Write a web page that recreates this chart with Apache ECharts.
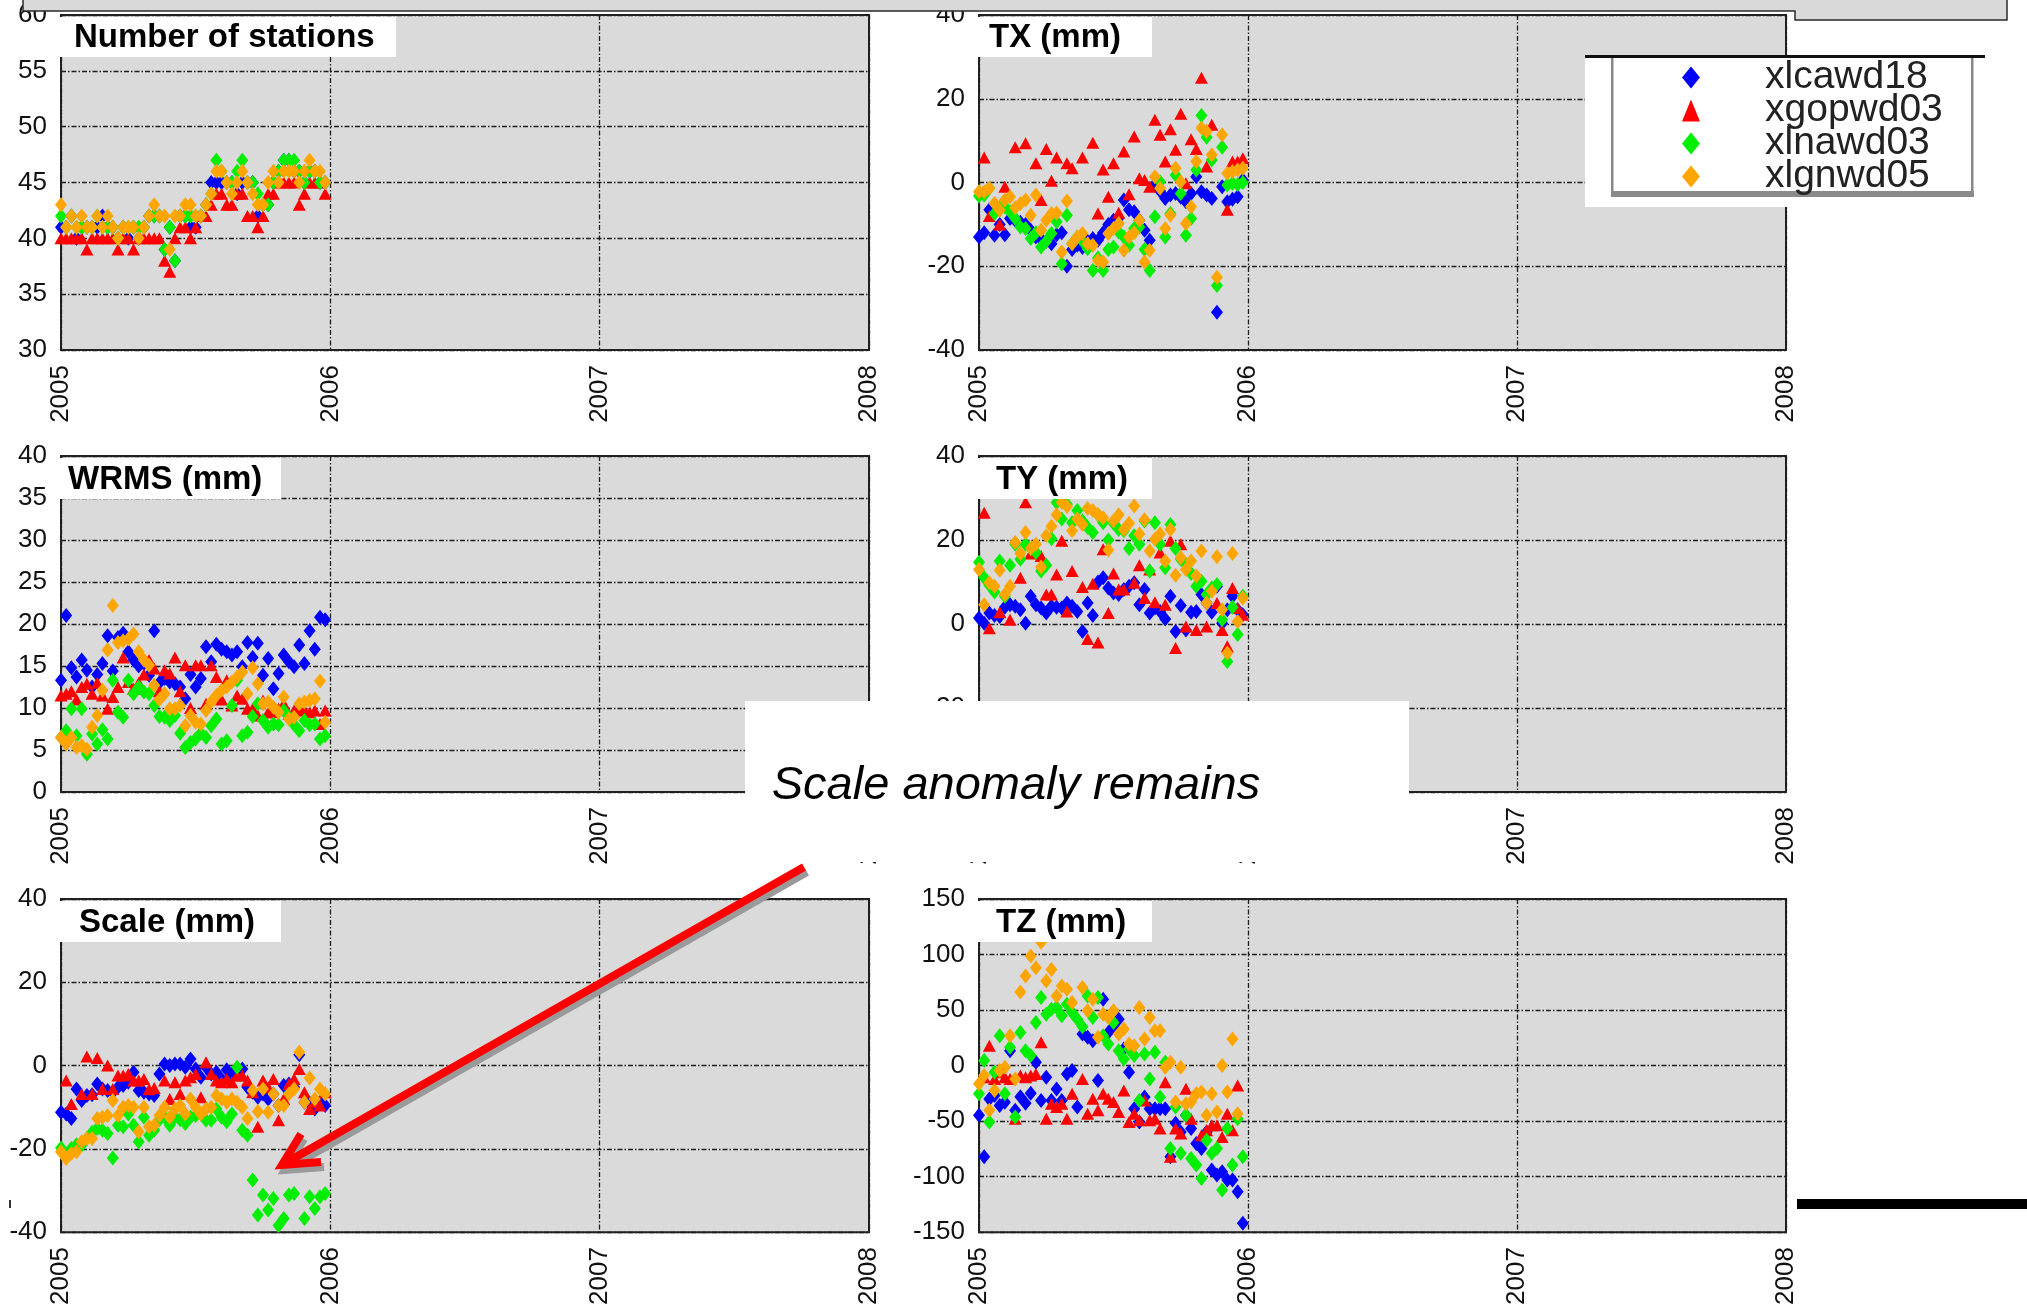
<!DOCTYPE html>
<html>
<head>
<meta charset="utf-8">
<title>Weekly combination statistics 2005</title>
<script src="https://cdn.jsdelivr.net/npm/echarts@6/dist/echarts.min.js"></script>
<style>
  html, body { margin: 0; padding: 0; background: #ffffff; }
  #chart { width: 2027px; height: 1308px; }
</style>
</head>
<body>
<div id="chart"></div>
<script>
// Weekly solutions through 2005; epoch of week i is firstEpoch + i * weekStep
const firstEpoch = 2005;
const weekStep = 1 / 52;
const yearTicks = [2005, 2006, 2007, 2008];

const solutionNames = ['xlcawd18', 'xgopwd03', 'xlnawd03', 'xlgnwd05'];
const solutionColors = ['#0000ff', '#ff0000', '#00ee00', '#ffa500'];
const solutionSymbols = ['diamond', 'triangle', 'diamond', 'diamond'];

const panelTitles = ['Number of stations', 'TX (mm)', 'WRMS (mm)', 'TY (mm)', 'Scale (mm)', 'TZ (mm)'];

// ---- Number of stations ----
const stationsCawd = [41,41,42,40,41,41,41,41,42,41,41,40,41, 40,41,40,41,42,42,42,39,41,38,42,42,41, 41,42,43,45,45,45,45,45,44,45,45,45,42, 43,43,45,46,47,47,46,46,45,46,46,45,45];
const stationsGopwd = [40,40,40,40,40,39,40,40,40,40,40,39,40, 40,39,40,40,40,40,40,38,37,40,41,41,40, 41,42,42,43,44,44,43,43,44,44,42,42,41, 42,44,44,45,45,45,45,43,44,45,45,45,44];
const stationsNawd = [42,41,42,41,41,41,41,42,41,41,41,40,41, 41,41,41,41,42,42,42,39,41,38,42,42,42, 42,42,43,44,47,46,45,45,46,47,45,45,44, 43,43,45,46,47,47,47,46,45,46,46,45,45];
const stationsGnwd = [43,41,42,41,42,41,41,42,41,42,41,40,41, 41,41,40,41,42,43,42,42,39,42,42,43,43, 42,42,43,44,46,46,45,44,45,46,45,44,43, 43,45,46,45,46,46,46,45,46,47,46,46,45];

// ---- TX (mm) ----
const txCawd = [-13,-12,-6.5,-12.6,-10,-12.5,-8.6,-9,-9.5,-10,-11.4,-13,-13.5, -14,-14.6,-12.5,-12,-20,-16,-15,-15.5,-14,-13.4,-13.8,-12,-10, -9,-8.5,-4.2,-6.5,-7,-9,-11.4,-13.8,-0.4,-2,-3.8,-3,-2.6, -3.5,-4.6,-2.6,1.4,-2.2,-3,-3.8,-31,-1,-4.6,-4,-3.4,0.6];
const txGopwd = [null,6,-8,null,-10,-1,null,8.4,null,9.4,null,4.6,-4.2, 8,0.4,6,null,4.6,3.4,null,6,null,9.5,-7.4,3.1,-3.4, 4.6,-7.2,7.4,-2.8,11,1,0.6,-1,15,11.4,5,12.7,7.8, 16.4,-0.2,10.3,8,25,3.8,13.8,null,null,-6.5,5,5,5.8];
const txNawd = [-3.2,-3,-1.4,-7.4,-6,-5.8,-7,-8.6,-10.6,-11,-13.4,-12,-15.4, -14,-12.2,-9.4,-19.4,-7.8,-14.6,-13,-14,-15.8,-21,-18,-21,-16, -15.4,-11.8,-13,-15,-11,-10.6,-16,-21,-8.2,0.2,-13,-7.4,1.8, -2.6,-12.6,-8.6,3,16,10.8,5.4,-24.6,8.4,-0.6,-0.2,-0.5,0];
const txGnwd = [-2.2,-2.2,-1.4,-5,-6.6,-4.2,-3.4,-6,-5,-4.2,-7.8,-3,-11.4, -9,-7.4,-7.3,-16.6,-4.4,-14.6,-13,-12.2,-14.6,-15,-18.6,-19,-12.2, -11,-9.8,-16.2,-13,-12,-9,-19,-16.2,1.4,-1.4,-11,-7.8,3.4, 0.2,-9.8,-5.8,5,13,12.2,6.6,-22.6,11.4,2.2,2.6,3,3.4];

// ---- WRMS (mm) ----
const wrmsCawd = [13.3,21,14.8,13.7,15.7,14.5,12.5,14,15.3,18.6,14.4,18.4,18.9, 16.7,15.7,15,15.3,13.9,19.2,13,13.5,13.1,12.9,12.5,11.1,14, 12.5,13.5,17.3,15.5,17.6,17,16.7,16.3,16.7,14.9,17.8,16,17.7, 13.9,15.9,12.3,14.1,16.3,15.5,14.9,17.5,15.3,19.2,17,20.8,20.5];
const wrmsGopwd = [11.5,11.7,12,11,12.5,12.9,11.7,13,11.5,9.9,11.3,12.5,16, 13.1,12.3,13,14,15.7,14.7,12,14.5,14.1,16,12,15.1,10, 15.1,15.1,10.5,15.1,13.7,11,13.3,10.3,11.5,11.1,9.9,9.9,9.1, 10.9,9.5,9.5,9.9,10.5,9.3,9.7,9.9,9.7,9.5,9.7,8.1,9.7];
const wrmsNawd = [6.5,7.3,9.9,6.7,9.9,4.5,6.9,5.7,7.4,6.3,13.3,9.5,8.9, 13.3,11.7,12.5,11.9,11.7,10.3,9,8.9,8.5,9.1,7,5.3,5.9, 6.3,7,6.5,7.9,8.7,5.7,6.1,10.3,13.3,6.7,7.1,9,10.5, 8.5,7.7,8.1,8,9.7,8.9,8,7.3,8.5,8,8.1,6.3,6.7];
const wrmsGnwd = [6.5,5.7,6.5,5.3,5.5,5.1,7.7,9.1,12.1,16.9,22.2,17.8,18, 18.2,18.8,16.7,15.7,15.1,12.7,11,11.7,9.9,9.9,10.3,7.9,9.1, 8.3,8.1,9.7,10.7,11.5,12.1,12.5,13.1,13.7,14.3,11.7,14.8,12.9, 10.5,10.7,10.1,9.5,11.3,8.7,8.9,10.5,10.7,10.9,11.1,13.2,8.3];

// ---- TY (mm) ----
const tyCawd = [1.4,0.2,2.6,2,1.8,4,4.6,4.2,3.4,0.2,6.6,4.6,3.8, 2.6,4.2,4,3.8,5,4.2,3,-1.8,5,2,10,11,8.6, 7.4,7,8.2,9,9.8,4.6,8.2,2.6,3.8,3,1.2,6.6,-1.8, 4.4,-1.4,2.8,3,7,5,2.8,9,0.2,3.4,6.6,3.4,2.2];
const tyGopwd = [null,26.5,-1,null,2.8,null,1,null,11,29,16.8,17.1,16.2, 7,7,11.8,19.8,3,12.6,null,8.8,-3.6,9.6,-4.4,17.8,2.6, 12,8.2,8.2,null,9.8,14,6.2,13,5.2,17,4.6,19.8,-5.7, 19,-0.6,null,-1.4,null,-0.6,null,5,-1.4,-5.3,8.6,3.8,2.2];
const tyNawd = [14.7,11,9.2,7.6,15,6.6,14,19,15.4,19,18,17,12.6, 14,20.3,28.9,25,28.5,24.1,27,24.5,23,21.8,26,24.1,20, 24,22.5,22.2,18,21,19,24.5,12.6,24.1,19,13.4,23.7,18, 15.4,14.2,12,9,10.2,7,8.6,9.4,1,-8.9,4,-2.5,6.6];
const tyGnwd = [13,4.6,9.8,9,12.8,7,9,19.4,16.8,21.8,18,19,13.6, 21,23.3,26,28.9,28,22.2,25,23.7,27.5,27,26.1,25.3,17.6, 24.5,26,22.5,24,28.1,21.4,24.8,17.4,20.2,21.4,15,22.5,11.6, 15.8,13,15,11.4,17.4,5,7.8,16,3.4,-6.9,16.8,0.6,6.2];

// ---- Scale (mm) ----
const scaleCawd = [-11.2,-11.6,-12.7,-5.6,-8.4,-7.2,-7,-4.4,-5.6,-6,-6.4,-5.2,-4.8, -4,-1.6,-6,-6.4,-6.8,-7.2,-2,0.4,0,0.4,0.4,-0.4,1.6, -0.8,-2.8,-0.4,-2,-1.6,-3.2,-1,-2,-1.5,-0.8,-5.2,-6.4,-7.6, -6.8,-8,-6.8,-9.6,-4.8,-4.4,-5.2,2.6,-8.8,-9,-10.4,-8.8,-9.6];
const scaleGopwd = [null,-3.6,-9.2,null,-6.8,2.2,-6.8,1.8,-5.6,0,-5.6,-2.4,-2.4, -2,-3.6,-3.6,-3.2,-5.7,-5.4,null,-3.6,-8,-4,-6.8,-3.6,-2.8, -2,-7.6,0.8,-2,-3.6,-4,-3.2,-4,-2.4,-2.4,-3.6,-6.4,-14.7, -3.6,-5.2,-3.2,-13.1,-8,-4.4,-3.2,-0.8,-6.4,-10.4,-8.8,-9.6,-6.4];
const scaleNawd = [-19.8,-21.5,-19.9,-19,-19.1,-17.5,-16,-15.1,-15.5,-16.3,-22.2,-14.3,-14.7, -11.6,-14.3,-18.3,-12.4,-16.7,-15.5,-13,-12.4,-14.3,-12.4,-13,-13.9,-12.4, -12,-11.6,-13.1,-13.1,-10.4,-12.4,-13.5,-11.6,-0.4,-15.5,-16.7,-27.5,-35.9, -31.1,-34.7,-31.9,-38.4,-36.7,-31.1,-30.7,null,-36.7,-31.5,-34.3,-31.5,-30.7];
const scaleGnwd = [-20.7,-22.3,-21.1,-20.7,-18.3,-17.5,-17.5,-12.7,-12.4,-12,-8.4,-12,-10, -9.6,-10,-15.9,-10,-14.7,-14.3,-12,-10,-12.4,-10.4,-9.6,-11.6,-8, -10,-11.6,-10.4,-10,-7.2,-8,-8.8,-8,-8.8,-10,-12.7,-6,-11, -5.6,-11.2,-6.8,-9.6,-9.6,-6.8,-5.6,3.2,-8.8,-3,-8,-5.6,-6.8];

// ---- TZ (mm) ----
const tzCawd = [-44.8,-82,-30,-27,-36,-33,13.4,-40.3,-28,-34,-25,3,-31.4, -10.5,-31.4,-21,-31.4,-7.5,-4.5,-37.3,28.4,25.4,22.4,-13.4,59.7,29.9, 35,41.8,14.9,-6,-38.8,-50.8,-28.4,-38.8,-38.8,-38.8,-38.8,-82,-52, -59.7,-44.8,-56.7,-70.2,-74.7,-59.7,-94,-98.6,-95.6,-103,-103,-113.5,-141.9];
const tzGopwd = [null,-10.5,17.9,-12,-6,-10.5,-12,-47.8,-9,-10.5,-9,-7.5,20.9, -47.8,-34.3,-37.3,-34.3,-47.8,-25.4,null,-12,-43.3,-29.9,-40.3,-25.4,-29.9, -32.9,-41.8,-22.4,-50.8,-43.3,-49.3,-31.4,-49.3,-47.8,-56.7,-14.9,-82,-56.7, -61.2,-20.9,-47.8,null,-62.7,-58.2,-53.8,-53.8,-64.2,-43.3,-58.2,-17.9,null];
const tzNawd = [-25.4,4.5,-50.8,-6,26.9,-25.4,16.4,-46.3,29.9,13.4,9,38.8,61.2, 46.3,50.8,52.3,44.8,55.3,47.8,41.8,35,62.7,43.3,61.2,26.9,19.4, 38.8,13.4,6,14.9,9,-31.4,10.5,-12,11.9,-28.4,3,-74.7,-37.3, -79,-44.8,-83.6,-89.6,-101.6,-67.2,-79,-74.7,-112,-56.7,-89.6,-47.8,-82];
const tzGnwd = [-16.4,-9,-40.3,-22.4,-4.5,-1.5,26.9,-12,66.3,80.6,98.6,88.1,111, 76.2,86.6,62.7,71.7,68.7,56.7,null,70.2,49.3,59.7,25.4,46.3,43.3, 49.3,28.4,32.9,19.4,17.9,52.3,23.9,43.3,31.4,31.4,-1.5,3,-32.9, -1.5,-34.3,-32.9,-25.4,-23.9,-44.8,-25.4,-41.8,0,-23.9,23.9,-43.3,null];

// y ranges per panel (min, max, step)
const panelRanges = [[30, 60, 5], [-40, 40, 20], [0, 40, 5], [-40, 40, 20], [-40, 40, 20], [-150, 150, 50]];
const panelValues = [
  [stationsCawd, stationsGopwd, stationsNawd, stationsGnwd],
  [txCawd, txGopwd, txNawd, txGnwd],
  [wrmsCawd, wrmsGopwd, wrmsNawd, wrmsGnwd],
  [tyCawd, tyGopwd, tyNawd, tyGnwd],
  [scaleCawd, scaleGopwd, scaleNawd, scaleGnwd],
  [tzCawd, tzGopwd, tzNawd, tzGnwd]
];

// ---------- layout ----------
const FONT = '"Liberation Sans", Arial, Helvetica, sans-serif';
const columns = [{ left: 61, width: 808 }, { left: 979, width: 807 }];
const rows = [{ top: 15, height: 335 }, { top: 456, height: 336 }, { top: 899, height: 336 }];
const gridLine = { color: '#1e1e1e', width: 1.3, type: [5, 2, 1.5, 2] };

const grids = [], xAxes = [], yAxes = [], series = [];
panelTitles.forEach((title, p) => {
  const col = columns[p % 2], row = rows[Math.floor(p / 2)];
  grids.push({
    left: col.left, top: row.top, width: col.width, height: row.height,
    show: true, backgroundColor: '#dadada', borderColor: '#222', borderWidth: 2
  });
  xAxes.push({
    type: 'value', gridIndex: p, min: yearTicks[0], max: yearTicks[yearTicks.length - 1], interval: 1,
    axisLine: { show: false }, axisTick: { show: false },
    axisLabel: { rotate: 90, margin: 15, fontSize: 26, color: '#111', fontFamily: FONT,
      formatter: v => String(Math.round(v)) },
    splitLine: { show: true, lineStyle: gridLine }
  });
  const [mn, mx, st] = panelRanges[p];
  yAxes.push({
    type: 'value', gridIndex: p, min: mn, max: mx, interval: st,
    axisLine: { show: false }, axisTick: { show: false },
    axisLabel: { margin: 14, fontSize: 26, color: '#111', fontFamily: FONT },
    splitLine: { show: true, lineStyle: gridLine }
  });
  panelValues[p].forEach((vals, s) => {
    const pts = [];
    vals.forEach((v, i) => { if (v !== null) pts.push([firstEpoch + i * weekStep, v]); });
    series.push({
      type: 'scatter', name: solutionNames[s], xAxisIndex: p, yAxisIndex: p,
      symbol: solutionSymbols[s],
      symbolSize: solutionSymbols[s] === 'triangle' ? [13, 12] : [12, 15],
      itemStyle: { color: solutionColors[s], opacity: 1 },
      data: pts
    });
  });
});

// panel title boxes
const titleBoxes = [
  { x: 60, y: 17, w: 336, h: 40, tx: 74 },
  { x: 978, y: 17, w: 174, h: 40, tx: 989 },
  { x: 60, y: 458, w: 221, h: 41, tx: 68 },
  { x: 978, y: 458, w: 174, h: 41, tx: 996 },
  { x: 60, y: 901, w: 221, h: 41, tx: 79 },
  { x: 978, y: 901, w: 174, h: 41, tx: 996 }
];
const graphics = [];
titleBoxes.forEach((b, p) => {
  graphics.push({ type: 'rect', z: 100, shape: { x: b.x, y: b.y, width: b.w, height: b.h }, style: { fill: '#ffffff' } });
  graphics.push({
    type: 'text', z: 101, x: b.tx, y: b.y + b.h / 2 + 1,
    style: { text: panelTitles[p], font: 'bold 33px ' + FONT, fill: '#000',
      textVerticalAlign: 'middle', verticalAlign: 'middle' }
  });
});

// slide header strip along the top edge
graphics.push({
  type: 'polygon', z: 100,
  shape: { points: [[23, -3], [2007, -3], [2007, 20], [1795, 20], [1795, 11], [23, 11]] },
  style: { fill: '#d9d9d9', stroke: '#2a2a2a', lineWidth: 1.5 }
});

// legend frame
graphics.push({ type: 'rect', z: 100, shape: { x: 1585, y: 57, width: 400, height: 150 }, style: { fill: '#ffffff' } });
graphics.push({ type: 'rect', z: 101, shape: { x: 1585, y: 55, width: 400, height: 3 }, style: { fill: '#111' } });
graphics.push({ type: 'rect', z: 101, shape: { x: 1611, y: 58, width: 2.5, height: 139 }, style: { fill: '#888' } });
graphics.push({ type: 'rect', z: 101, shape: { x: 1971, y: 58, width: 2.5, height: 139 }, style: { fill: '#888' } });
graphics.push({ type: 'rect', z: 101, shape: { x: 1611, y: 191, width: 363, height: 6 }, style: { fill: '#8a8a8a' } });

// callout
graphics.push({ type: 'rect', z: 100, shape: { x: 745, y: 701, width: 664, height: 161 }, style: { fill: '#ffffff' } });
graphics.push({
  type: 'text', z: 101, x: 1016, y: 786,
  style: { text: 'Scale anomaly remains', font: 'italic 47px ' + FONT, fill: '#000',
    textAlign: 'center', align: 'center', textVerticalAlign: 'middle', verticalAlign: 'middle' }
});

// arrow towards the scale jump, with its drop shadow
const arrowShaft = [[804, 867], [282, 1165]];
const arrowHead = [[301, 1134], [282, 1165], [321, 1162]];
const shadowOffset = [3, 5];
const shift = pts => pts.map(([x, y]) => [x + shadowOffset[0], y + shadowOffset[1]]);
graphics.push({ type: 'polyline', z: 102, shape: { points: shift(arrowShaft) }, style: { stroke: '#9a9a9a', lineWidth: 8 } });
graphics.push({ type: 'polyline', z: 102, shape: { points: shift(arrowHead) }, style: { stroke: '#9a9a9a', lineWidth: 8, lineJoin: 'miter' } });
graphics.push({ type: 'polyline', z: 103, shape: { points: arrowShaft }, style: { stroke: '#ff0000', lineWidth: 8 } });
graphics.push({ type: 'polyline', z: 103, shape: { points: arrowHead }, style: { stroke: '#ff0000', lineWidth: 8, lineJoin: 'miter' } });

// separator bar at the lower right and a small edge mark
graphics.push({ type: 'rect', z: 100, shape: { x: 1797, y: 1199, width: 230, height: 10 }, style: { fill: '#000' } });
graphics.push({ type: 'rect', z: 100, shape: { x: 9, y: 1200, width: 2, height: 8 }, style: { fill: '#333' } });

const chart = echarts.init(document.getElementById('chart'), null, { renderer: 'canvas' });
chart.setOption({
  animation: false,
  backgroundColor: '#ffffff',
  grid: grids,
  xAxis: xAxes,
  yAxis: yAxes,
  legend: {
    z: 120, zlevel: 0,
    left: 1677, top: 53, orient: 'vertical',
    itemWidth: 18, itemHeight: 22, itemGap: -6,
    selectedMode: false,
    data: solutionNames.map((n, s) => ({ name: n, icon: solutionSymbols[s] })),
    textStyle: { fontSize: 39, fontFamily: FONT, color: '#222', lineHeight: 20, padding: [0, 0, 0, 60] }
  },
  graphic: graphics,
  series: series
});
</script>
</body>
</html>
